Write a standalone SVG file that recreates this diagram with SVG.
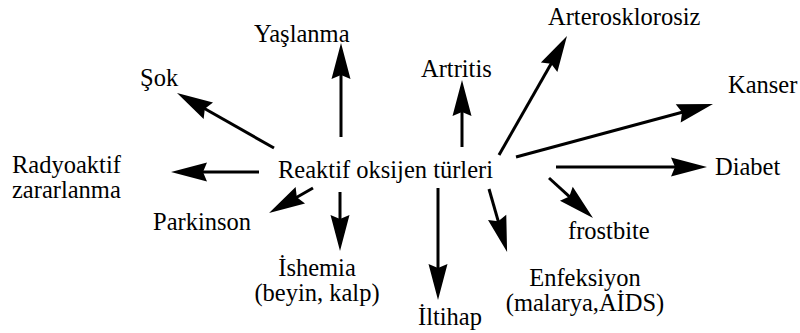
<svg xmlns="http://www.w3.org/2000/svg" width="800" height="333" viewBox="0 0 800 333">
  <style>
    .lbl { font-family: "Liberation Serif", "DejaVu Serif", "Times New Roman", serif; font-size: 24.5px; fill: #000; }
    .arrow { stroke: #000; stroke-width: 3; fill: none; marker-end: url(#head); }
  </style>
  <defs>
    <!-- notched arrowhead; tip sits 30 units beyond the line end -->
    <marker id="head" markerUnits="userSpaceOnUse" orient="auto" refX="0" refY="0" markerWidth="40" markerHeight="24" overflow="visible">
      <path d="M30,0 L-6,-9.5 L-2,0 L-6,9.5 Z" fill="#000"/>
    </marker>
  </defs>
  <rect width="800" height="333" fill="#fff"/>

  <g id="connectors">
    <line class="arrow" x1="341" y1="137" x2="341" y2="73"/>
    <line class="arrow" x1="274" y1="148" x2="203.1" y2="107.8"/>
    <line class="arrow" x1="259" y1="172" x2="201" y2="172"/>
    <line class="arrow" x1="313" y1="188" x2="295.1" y2="198.2"/>
    <line class="arrow" x1="340" y1="192" x2="340" y2="221"/>
    <line class="arrow" x1="438" y1="188" x2="438" y2="270"/>
    <line class="arrow" x1="489" y1="189" x2="498.8" y2="223.1"/>
    <line class="arrow" x1="549" y1="178" x2="570.8" y2="197.8"/>
    <line class="arrow" x1="556" y1="167" x2="677" y2="167"/>
    <line class="arrow" x1="516" y1="157" x2="684" y2="111.8"/>
    <line class="arrow" x1="499" y1="155" x2="552.1" y2="62"/>
    <line class="arrow" x1="462" y1="147" x2="462" y2="110"/>
  </g>

  <g font-family="Liberation Serif, DejaVu Serif, serif" font-size="24.5">
    <g id="center"><text class="lbl" x="278" y="178">Reaktif oksijen türleri</text></g>
    <g id="yaslanma"><text class="lbl" x="254" y="42">Yaşlanma</text></g>
    <g id="sok"><text class="lbl" x="140" y="86">Şok</text></g>
    <g id="radyoaktif"><text class="lbl" x="12" y="173">Radyoaktif</text><text class="lbl" x="12" y="198">zararlanma</text></g>
    <g id="parkinson"><text class="lbl" x="153" y="230">Parkinson</text></g>
    <g id="ishemia"><text class="lbl" x="317" y="276" text-anchor="middle">İshemia</text><text class="lbl" x="317" y="301" text-anchor="middle">(beyin, kalp)</text></g>
    <g id="iltihap"><text class="lbl" x="418" y="325">İltihap</text></g>
    <g id="enfeksiyon"><text class="lbl" x="585" y="286" text-anchor="middle">Enfeksiyon</text><text class="lbl" x="585" y="311" text-anchor="middle">(malarya,AİDS)</text></g>
    <g id="frostbite"><text class="lbl" x="568" y="239">frostbite</text></g>
    <g id="diabet"><text class="lbl" x="715" y="175">Diabet</text></g>
    <g id="kanser"><text class="lbl" x="728" y="93">Kanser</text></g>
    <g id="artritis"><text class="lbl" x="421" y="77">Artritis</text></g>
    <g id="arterosklorosiz"><text class="lbl" x="548" y="25">Arterosklorosiz</text></g>
  </g>
</svg>
